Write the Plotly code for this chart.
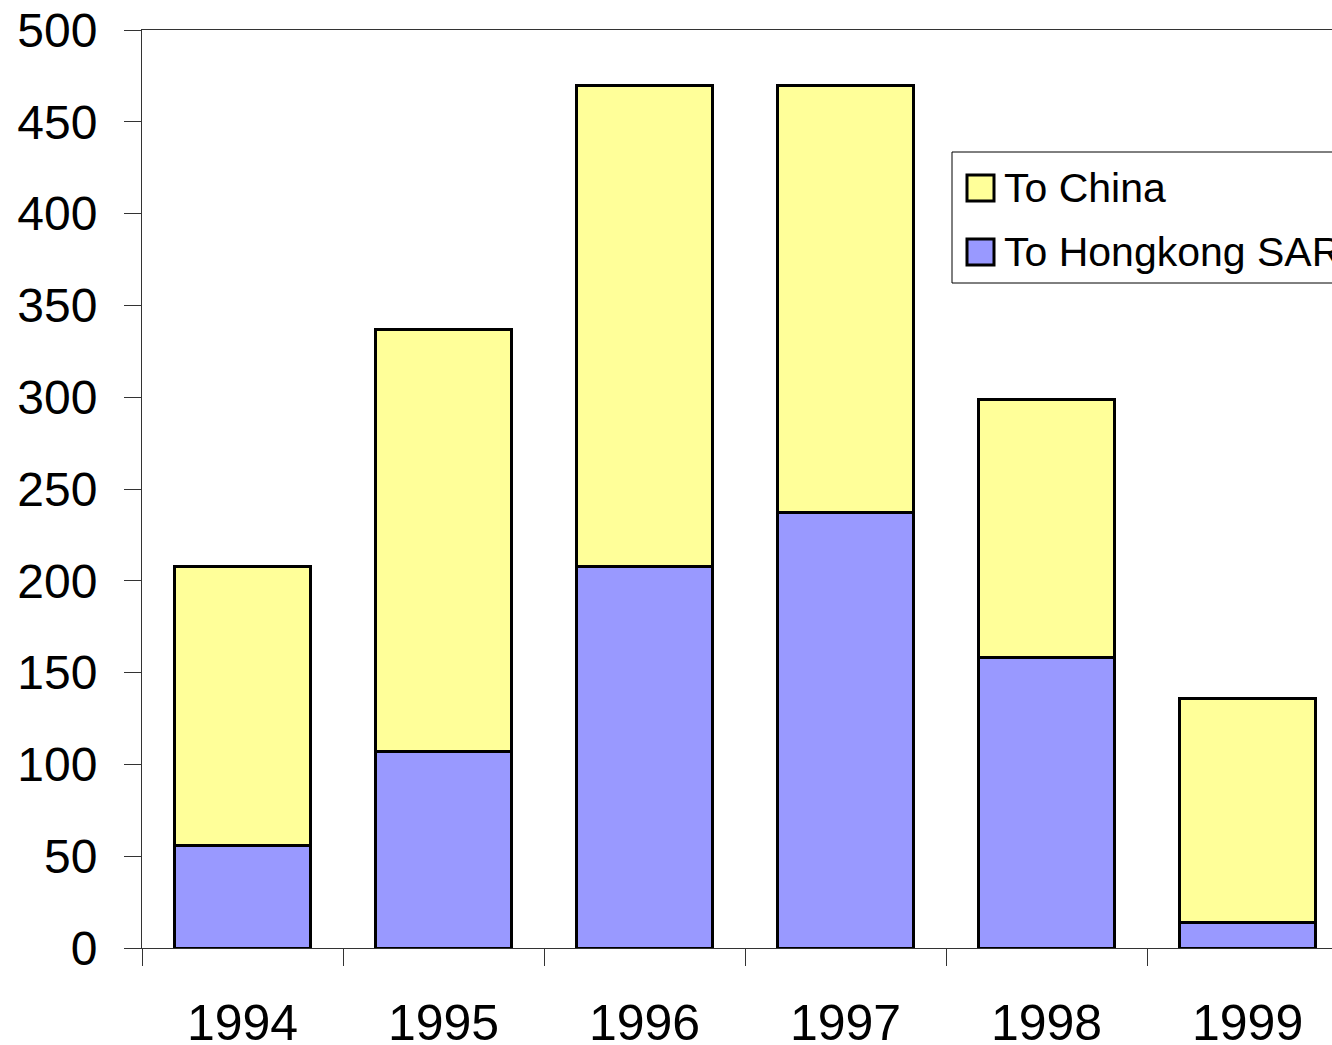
import plotly.graph_objects as go

# Annual figures by destination
years = ["1994", "1995", "1996", "1997", "1998", "1999"]
to_hongkong = [56, 107, 208, 237, 158, 14]
to_china = [152, 230, 262, 233, 141, 122]

series_names = ["To China", "To Hongkong SAR"]
series_colors = ["#FFFF99", "#9999FF"]

FONT = "Liberation Sans, Arial, sans-serif"

fig = go.Figure()
fig.add_trace(go.Bar(
    x=years, y=to_hongkong, name=series_names[1],
    marker=dict(color=series_colors[1], line=dict(color="black", width=3)),
    width=0.675, showlegend=False,
))
fig.add_trace(go.Bar(
    x=years, y=to_china, name=series_names[0],
    marker=dict(color=series_colors[0], line=dict(color="black", width=3)),
    width=0.675, showlegend=False,
))

# Legend box drawn by hand so the swatches can be large
W, H = 1332, 1045
ml, mr, mt, mb = 142, 0, 30, 97
pw, ph = W - ml - mr, H - mt - mb


def px_x(x):
    return (x - ml) / pw


def px_y(y):
    return (H - mb - y) / ph


shapes = [
    dict(type="rect", xref="paper", yref="paper",
         x0=px_x(952), x1=px_x(1400), y0=px_y(283), y1=px_y(152),
         line=dict(color="black", width=1), fillcolor="white", layer="above"),
]
annotations = []
rows = [(188, 0), (252, 1)]
for yc, i in rows:
    shapes.append(dict(type="rect", xref="paper", yref="paper",
                       x0=px_x(967), x1=px_x(994), y0=px_y(yc + 13), y1=px_y(yc - 13),
                       line=dict(color="black", width=3), fillcolor=series_colors[i],
                       layer="above"))
    annotations.append(dict(xref="paper", yref="paper", x=px_x(1002), y=px_y(yc),
                            xanchor="left", yanchor="middle", showarrow=False,
                            text=series_names[i],
                            font=dict(family=FONT, size=41, color="black")))

fig.update_layout(
    width=W, height=H,
    margin=dict(l=ml, r=mr, t=mt, b=mb, autoexpand=False),
    barmode="stack",
    plot_bgcolor="white", paper_bgcolor="white",
    shapes=shapes, annotations=annotations,
    font=dict(family=FONT, color="black"),
    xaxis=dict(
        type="category", range=[-0.5, 5.42],
        tickson="boundaries", ticks="outside", ticklen=17, tickwidth=1,
        tickcolor="#333333", showline=True, linecolor="#333333", linewidth=1,
        mirror=True, showgrid=False, zeroline=False,
        tickfont=dict(family=FONT, size=50, color="black"),
        ticklabelstandoff=31,
    ),
    yaxis=dict(
        range=[0, 500], tickvals=[0, 50, 100, 150, 200, 250, 300, 350, 400, 450, 500],
        ticks="outside", ticklen=17, tickwidth=1, tickcolor="#333333",
        showline=True, linecolor="#333333", linewidth=1,
        showgrid=False, zeroline=False,
        tickfont=dict(family=FONT, size=48, color="black"),
        ticklabelstandoff=17,
    ),
)

fig.write_html("out.html")
